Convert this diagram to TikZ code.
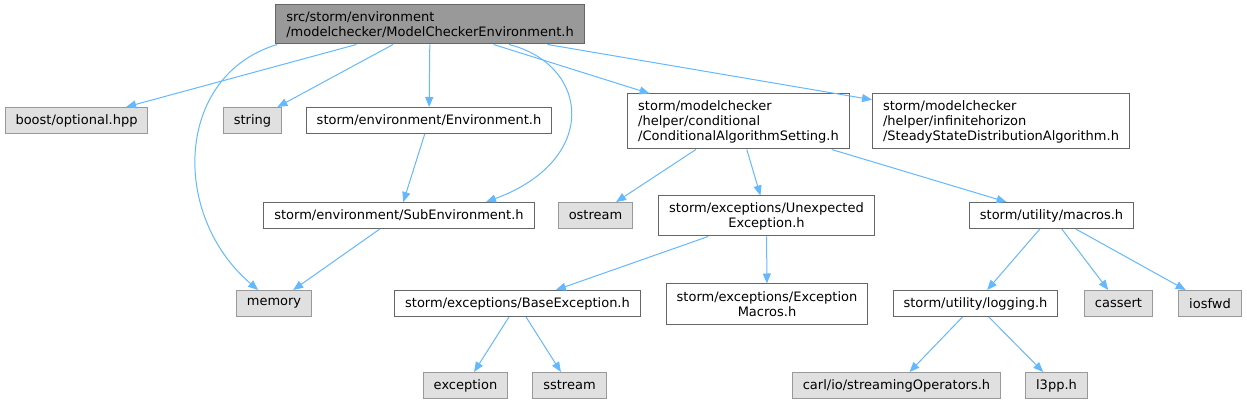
\documentclass[tikz,border=0pt]{standalone}
\usepackage{xcolor}
\usepackage{fontspec}
\setmainfont{DejaVu Sans}
\usepackage{tikz}
\usetikzlibrary{arrows.meta}
\definecolor{EdgeBlue}{HTML}{63B8FF}
\definecolor{RootGray}{HTML}{999999}
\definecolor{BoxBorder}{HTML}{666666}
\definecolor{ExtFill}{HTML}{E0E0E0}
\definecolor{ExtBorder}{HTML}{999999}

\begin{document}
\begin{tikzpicture}[
  x=1pt, y=-1pt,
  hd/.style={rectangle, draw=BoxBorder, fill=white, line width=1pt,
             inner xsep=10.5pt, inner ysep=0pt, minimum height=26pt,
             font=\fontsize{13}{15}\selectfont},
  ext/.style={hd, draw=ExtBorder, fill=ExtFill},
  top/.style={hd, fill=RootGray, align=left},
  eg/.style={-{Triangle[length=10pt,width=8pt]}, line width=1pt, color=EdgeBlue}
]
  \useasboundingbox (0,0) rectangle (1247,403);
  \node[top, minimum height=39pt] (root) at (430,24.5)
    {src/storm/environment\\/modelchecker/ModelCheckerEnvironment.h};
  \node[ext] (boost)  at (76.5,120.5)  {boost/optional.hpp};
  \node[ext] (str)    at (252.5,120.5) {string};
  \node[hd]  (env)    at (429,120.5)   {storm/environment/Environment.h};
  \node[hd, align=left, minimum height=55pt] (cond) at (738.5,121.5)
    {storm/modelchecker\\/helper/conditional\\/ConditionalAlgorithmSetting.h};
  \node[hd, align=left, minimum height=55pt] (steady) at (1001,121.5)
    {storm/modelchecker\\/helper/infinitehorizon\\/SteadyStateDistributionAlgorithm.h};
  \node[hd]  (subenv) at (399,215.5)   {storm/environment/SubEnvironment.h};
  \node[ext] (ostr)   at (595.5,215.5) {ostream};
  \node[hd, align=center, minimum height=40pt] (unexp) at (766.5,216)
    {storm/exceptions/Unexpected\\Exception.h};
  \node[hd]  (macros) at (1051.5,215.5) {storm/utility/macros.h};
  \node[ext] (mem)    at (274,303.5)   {memory};
  \node[hd]  (baseex) at (517.5,303.5) {storm/exceptions/BaseException.h};
  \node[hd, align=center, minimum height=40pt] (exmac) at (767,304)
    {storm/exceptions/Exception\\Macros.h};
  \node[hd]  (logg)   at (975.5,303.5) {storm/utility/logging.h};
  \node[ext] (cass)   at (1118.5,303.5) {cassert};
  \node[ext] (iosf)   at (1210,303.5)  {iosfwd};
  \node[ext] (exc)    at (465.5,385.5) {exception};
  \node[ext] (sstr)   at (569.5,385.5) {sstream};
  \node[ext] (carl)   at (896.5,385.5) {carl/io/streamingOperators.h};
  \node[ext] (lpp)    at (1056.5,385.5) {l3pp.h};
  \draw[eg] (root)--(boost);
  \draw[eg] (root)--(str);
  \draw[eg] (root)--(env);
  \draw[eg] ([xshift=2pt]root.south west) .. controls (175,75) and (170,215) .. (mem);
  \draw[eg] (root) .. controls (590,65) and (600,160) .. ([xshift=87pt]subenv.north);
  \draw[eg] (root)--(cond);
  \draw[eg] (root)--(steady);
  \draw[eg] (env)--(subenv);
  \draw[eg] (subenv)--(mem);
  \draw[eg] (cond)--(ostr);
  \draw[eg] (cond)--(unexp);
  \draw[eg] (cond)--(macros);
  \draw[eg] (unexp)--(baseex);
  \draw[eg] (unexp)--(exmac);
  \draw[eg] (baseex)--(exc);
  \draw[eg] (baseex)--(sstr);
  \draw[eg] (macros)--(logg);
  \draw[eg] (macros)--(cass);
  \draw[eg] (macros)--(iosf);
  \draw[eg] (logg)--(carl);
  \draw[eg] (logg)--(lpp);
\end{tikzpicture}
\end{document}
